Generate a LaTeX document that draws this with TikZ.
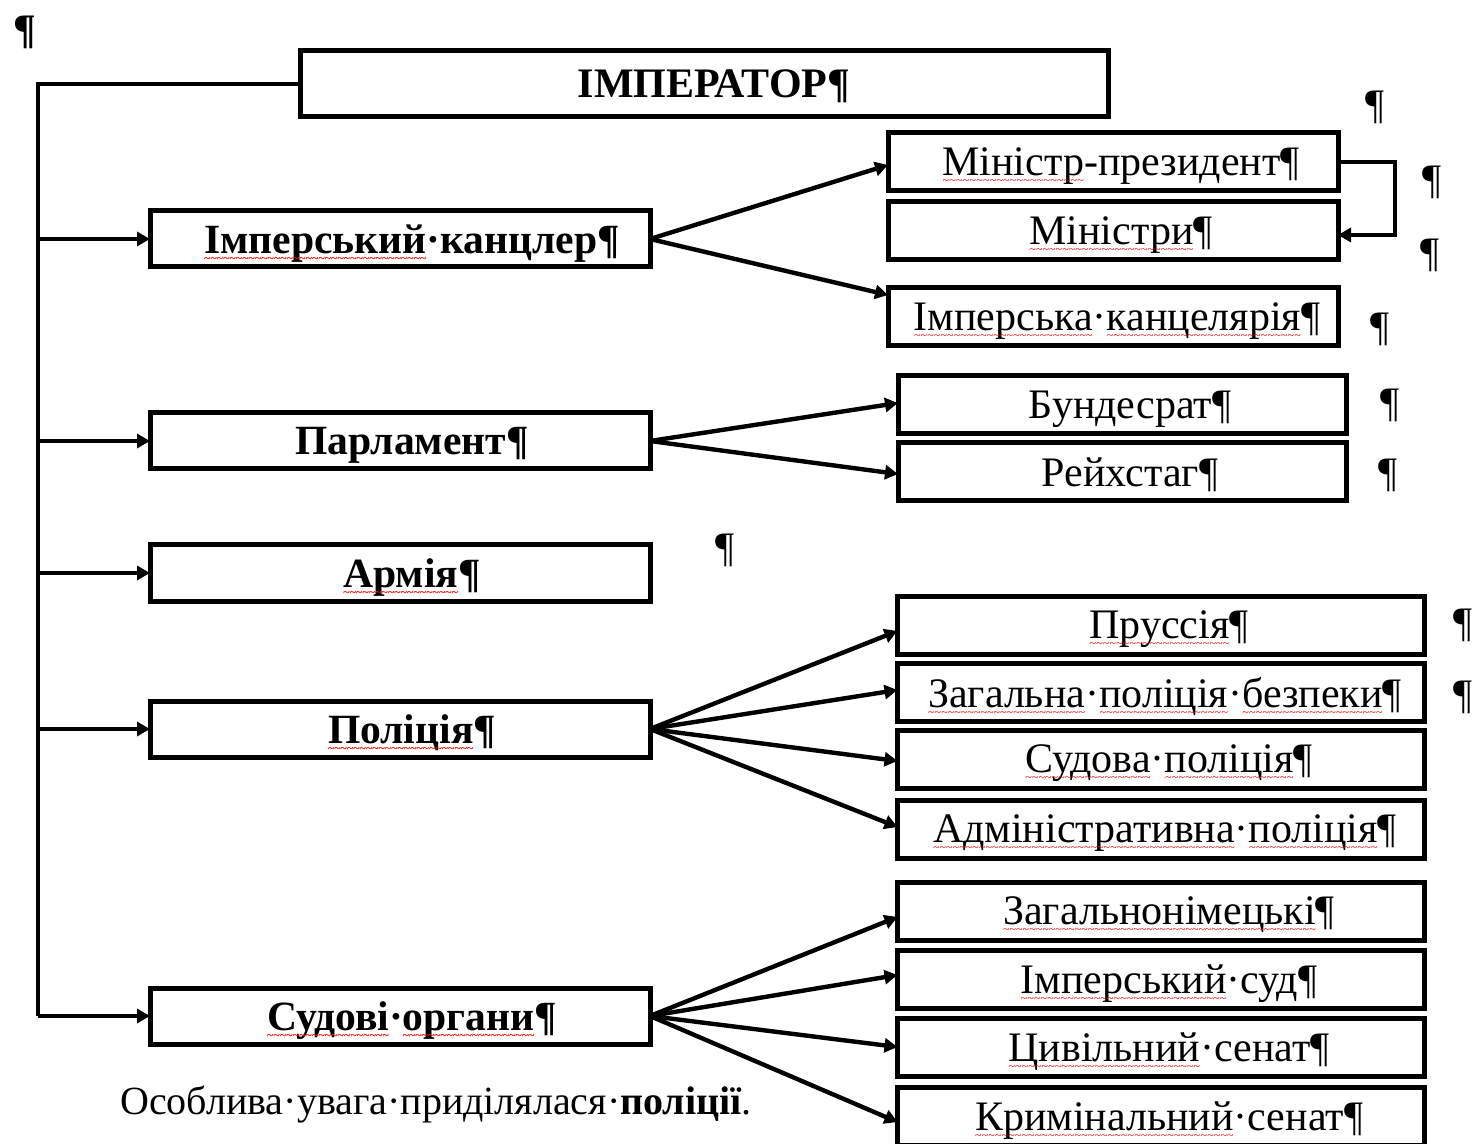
\documentclass[tikz,border=0pt]{standalone}
\usepackage{fontspec}
\setmainfont{Liberation Serif}
\usetikzlibrary{arrows.meta}
\newsavebox\rwbox
\newcommand\rw[1]{\sbox\rwbox{#1}\rlap{\usebox\rwbox}\raisebox{-4.5pt}[0pt][0pt]{\hbox to\wd\rwbox{\color{red}\fontsize{6}{6}\selectfont\xleaders\hbox{\char"7E}\hfill}}}
\tikzset{
  bx/.style={draw, line width=2.5pt, rectangle, inner sep=0pt, outer sep=0pt, align=center, text depth=0pt},
  lbox/.style={bx, minimum width=250pt, minimum height=28pt, font=\fontsize{20.8}{23}\selectfont\bfseries},
  rbox/.style={bx, minimum width=225pt, minimum height=29pt, font=\fontsize{21}{24}\selectfont},
  wbox/.style={bx, minimum width=263.5pt, minimum height=29pt, font=\fontsize{21}{24}\selectfont},
  ln/.style={line width=2.2pt},
  arr/.style={ln, -{Triangle[length=6.5pt,width=7pt]}},
  pil/.style={inner sep=0pt, font=\fontsize{21}{24}\selectfont},
}
\begin{document}
\begin{tikzpicture}[x=0.5pt, y=-0.5pt]
\useasboundingbox (0,0) rectangle (1473,1144);
\clip (0,0) rectangle (1473,1144);
% main boxes
\node[bx, minimum width=404pt, minimum height=33pt, font=\fontsize{21}{24}\selectfont\bfseries] (imp) at (704,84) {\hspace*{10pt}ІМПЕРАТОР¶};
\node[lbox] (kanc) at (400,239) {\hspace*{12pt}\rw{Імперський}·канцлер¶};
\node[lbox] (parl) at (400,441) {\hspace*{12pt}Парламент¶};
\node[lbox] (arm) at (400,573) {\hspace*{12pt}\rw{Армія}¶};
\node[lbox] (pol) at (400,729) {\hspace*{12pt}\rw{Поліція}¶};
\node[lbox] (sud) at (400,1016) {\hspace*{12pt}\rw{Судові}·\rw{органи}¶};
% right boxes
\node[rbox] (minp) at (1113,162) {\hspace*{8pt}\rw{Міністр}-президент¶};
\node[rbox] (min) at (1113,231) {\hspace*{8pt}\rw{Міністри}¶};
\node[rbox] (imk) at (1113,317) {\hspace*{4pt}\rw{Імперська}·\rw{канцелярія}¶};
\node[rbox, minimum width=224pt] (bund) at (1122,405) {\hspace*{8pt}Бундесрат¶};
\node[rbox, minimum width=224pt] (reich) at (1122,472) {\hspace*{8pt}Рейхстаг¶};
\node[wbox] (prus) at (1161,625) {\hspace*{8pt}\rw{Пруссія}¶};
\node[wbox] (zag) at (1161,692) {\hspace*{4pt}\rw{Загальна}·\rw{поліція}·\rw{безпеки}¶};
\node[wbox] (sudp) at (1161,759) {\hspace*{8pt}\rw{Судова}·\rw{поліція}¶};
\node[wbox] (adm) at (1161,829) {\hspace*{4pt}\rw{Адміністративна}·\rw{поліція}¶};
\node[wbox] (zn) at (1161,911) {\hspace*{8pt}\rw{Загальнонімецькі}¶};
\node[wbox] (isud) at (1161,979) {\hspace*{8pt}\rw{Імперський}·суд¶};
\node[wbox] (civ) at (1161,1047) {\hspace*{8pt}\rw{Цивільний}·сенат¶};
\node[wbox] (krim) at (1161,1116) {\hspace*{8pt}\rw{Кримінальний}·сенат¶};
% trunk
\coordinate (tk) at (38,84);
\coordinate (tb) at (38,1016);
\draw[ln] (imp.west) -- (tk) -- (tb);
\draw[arr] (tk |- kanc.west) -- (kanc.west);
\draw[arr] (tk |- parl.west) -- (parl.west);
\draw[arr] (tk |- arm.west) -- (arm.west);
\draw[arr] (tk |- pol.west) -- (pol.west);
\draw[arr] (tb) -- (sud.west);
% branches
\draw[arr] (kanc.east) -- ([yshift=-1.5pt]minp.west);
\draw[arr] (kanc.east) -- ([yshift=11pt]imk.west);
\draw[arr] (minp.east) -- ++(57,0) |- ([yshift=-2pt]min.east);
\draw[arr] (parl.east) -- ([yshift=1pt]bund.west);
\draw[arr] (parl.east) -- ([yshift=-1pt]reich.west);
\draw[arr] (pol.east) -- ([yshift=-3pt]prus.west);
\draw[arr] (pol.east) -- ([yshift=1pt]zag.west);
\draw[arr] (pol.east) -- ([yshift=-1pt]sudp.west);
\draw[arr] (pol.east) -- ([yshift=1pt]adm.west);
\draw[arr] (sud.east) -- ([yshift=-3pt]zn.west);
\draw[arr] (sud.east) -- ([yshift=2pt]isud.west);
\draw[arr] (sud.east) -- (civ.west);
\draw[arr] (sud.east) -- ([yshift=-3pt]krim.west);
% stray pilcrows
\node[pil, font=\fontsize{21}{24}\selectfont\bfseries] (p0) at (25,32) {¶};
\node[pil] (p1) at (1375,107) {¶};
\node[pil] (p2) at (1432,182) {¶};
\node[pil] (p3) at (1430,255) {¶};
\node[pil] (p4) at (1380,329) {¶};
\node[pil] (p5) at (1390,405) {¶};
\node[pil] (p6) at (1388,475) {¶};
\node[pil] (p7) at (725,550) {¶};
\node[pil] (p8) at (1463,625) {¶};
\node[pil] (p9) at (1463,697) {¶};
% text below
\node[inner sep=0pt, text depth=0pt, font=\fontsize{20}{23}\selectfont] (txt) at (436,1100) {Особлива·увага·приділялася·\textbf{поліції}.};
\end{tikzpicture}
\end{document}
